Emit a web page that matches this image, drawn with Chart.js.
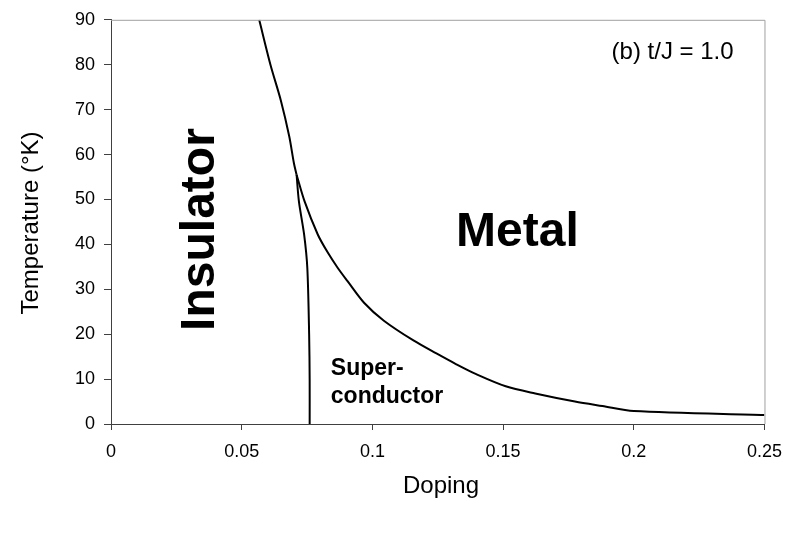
<!DOCTYPE html>
<html>
<head>
<meta charset="utf-8">
<script src="https://cdn.jsdelivr.net/npm/chart.js@4"></script>
<style>
  html, body { margin: 0; padding: 0; background: #fff; }
  #wrap { width: 793px; height: 533px; }
</style>
</head>
<body>
<div id="wrap"><canvas id="myChart" width="793" height="533"></canvas></div>
<script>
// insulator / metal boundary above the junction
let upperX = [0.0567, 0.0610, 0.0650, 0.0682, 0.0700, 0.0710];
let upperT = [90, 80, 72, 64, 58, 55.5];

// superconductor left edge (junction down to T = 0)
let scX = [0.0710, 0.0719, 0.0739, 0.0751, 0.0758, 0.0760, 0.0760];
let scT = [55.5, 49.5, 42.1, 34.8, 20, 10, 0];

// metal / superconductor boundary
let metalX = [0.0710, 0.0741, 0.0791, 0.0827, 0.0867, 0.0905, 0.0968, 0.1044, 0.1157, 0.1245, 0.1321, 0.1397, 0.151, 0.1623, 0.1775, 0.188, 0.2, 0.25];
let metalT = [55.5, 49.5, 42.2, 38.4, 34.8, 31.8, 27.0, 23.0, 18.6, 15.7, 13.3, 11.1, 8.4, 6.8, 5.0, 4.0, 2.9, 2.0];

let xTicks = [0, 0.05, 0.1, 0.15, 0.2, 0.25];
let yTicks = [0, 10, 20, 30, 40, 50, 60, 70, 80, 90];

function toPts(xs, ys) {
  return xs.map(function(x, i) { return { x: x, y: ys[i] }; });
}

function lineSet(xs, ys, t) {
  return {
    data: toPts(xs, ys),
    showLine: true,
    borderColor: '#000',
    borderWidth: 2,
    pointRadius: 0,
    tension: t,
    fill: false
  };
}

const FONT = "'Liberation Sans', Arial, sans-serif";

// labels placed in data coordinates
const labelPlugin = {
  id: 'labels',
  afterDraw(chart) {
    const c = chart.ctx;
    const xs = chart.scales.x, ys = chart.scales.y;
    const a = chart.chartArea;
    c.save();

    // frame top / right
    c.strokeStyle = '#a0a0a0';
    c.lineWidth = 1;
    c.beginPath();
    c.moveTo(a.left, a.top + 0.5);
    c.lineTo(a.right + 0.5, a.top + 0.5);
    c.lineTo(a.right + 0.5, a.bottom);
    c.stroke();

    c.fillStyle = '#000';
    c.textBaseline = 'middle';

    c.font = 'bold 48px ' + FONT;
    c.textAlign = 'center';
    c.fillText('Metal', xs.getPixelForValue(0.1555), ys.getPixelForValue(42.6));

    c.save();
    c.translate(xs.getPixelForValue(0.0345), ys.getPixelForValue(43.3));
    c.rotate(-Math.PI / 2);
    c.fillText('Insulator', 0, 0);
    c.restore();

    c.font = 'bold 23px ' + FONT;
    c.textAlign = 'left';
    c.textBaseline = 'alphabetic';
    c.fillText('Super-', xs.getPixelForValue(0.0841), ys.getPixelForValue(11.0));
    c.fillText('conductor', xs.getPixelForValue(0.0841), ys.getPixelForValue(4.6));

    c.font = '24px ' + FONT;
    c.fillText('(b) t/J = 1.0', xs.getPixelForValue(0.1915), ys.getPixelForValue(81.3));

    // axis titles
    c.font = '24px ' + FONT;
    c.textAlign = 'center';
    c.textBaseline = 'middle';
    c.fillText('Doping', 441, 486);
    c.save();
    c.translate(31, 223);
    c.rotate(-Math.PI / 2);
    c.fillText('Temperature (\u00B0K)', 0, 0);
    c.restore();

    c.restore();
  }
};

function createAPlot() {
  let ctx = document.getElementById('myChart').getContext('2d');
  let chart = new Chart(ctx, {
    type: 'scatter',
    data: {
      datasets: [lineSet(upperX, upperT, 0.3), lineSet(scX, scT, 0.3), lineSet(metalX, metalT, 0.3)]
    },
    options: {
      responsive: false,
      animation: false,
      layout: { padding: { left: 0, right: 21, top: 15, bottom: 0 } },
      plugins: { legend: { display: false }, tooltip: { enabled: false } },
      scales: {
        x: {
          type: 'linear',
          min: 0,
          max: 0.25,
          afterFit: function(s) { s.height = 109; },
          afterBuildTicks: function(s) { s.ticks = xTicks.map(function(v) { return { value: v }; }); },
          grid: { drawOnChartArea: false, drawTicks: true, tickLength: 6, color: '#404040' },
          border: { color: '#404040', width: 1 },
          ticks: { color: '#000', padding: 11, font: { family: FONT, size: 18 }, maxRotation: 0,
                   callback: function(v) { return String(v); } }
        },
        y: {
          type: 'linear',
          min: 0,
          max: 90,
          afterFit: function(s) { s.width = 111; },
          afterBuildTicks: function(s) { s.ticks = yTicks.map(function(v) { return { value: v }; }); },
          grid: { drawOnChartArea: false, drawTicks: true, tickLength: 7, color: '#404040' },
          border: { color: '#404040', width: 1 },
          ticks: { color: '#000', padding: 9, font: { family: FONT, size: 18 } }
        }
      }
    },
    plugins: [labelPlugin]
  });
}
createAPlot();
</script>
</body>
</html>
